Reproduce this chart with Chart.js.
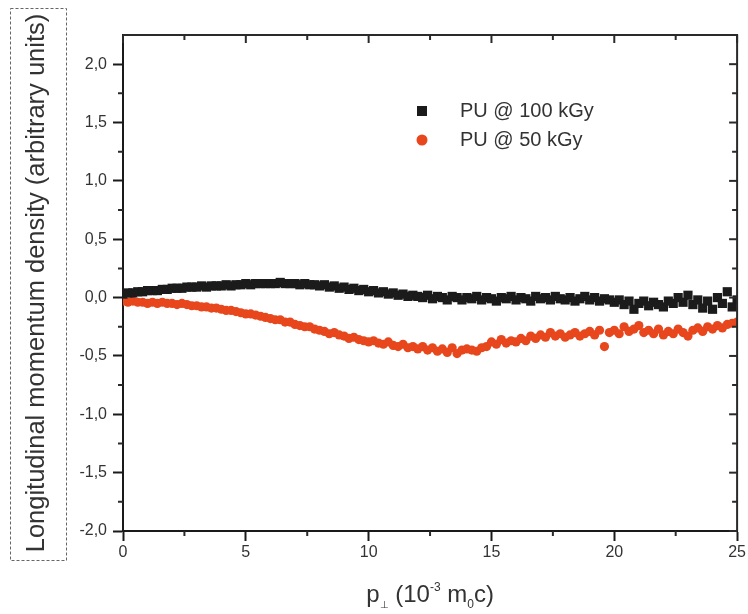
<!DOCTYPE html>
<html>
<head>
<meta charset="utf-8">
<script src="https://cdn.jsdelivr.net/npm/chart.js@4.4.0/dist/chart.umd.min.js"></script>
<style>
  body { margin: 0; background: #fff; }
  #wrap { width: 748px; height: 614px; }
</style>
</head>
<body>
<div id="wrap"><canvas id="myChart" width="748" height="614"></canvas></div>
<script>
// p_perp values (10^-3 m0c)
const pValues = [
  0.0, 0.2, 0.4, 0.6, 0.8, 1.0, 1.2, 1.4, 1.6, 1.8,
  2.0, 2.2, 2.4, 2.6, 2.8, 3.0, 3.2, 3.4, 3.6, 3.8,
  4.0, 4.2, 4.4, 4.6, 4.8, 5.0, 5.2, 5.4, 5.6, 5.8,
  6.0, 6.2, 6.4, 6.6, 6.8, 7.0, 7.2, 7.4, 7.6, 7.8,
  8.0, 8.2, 8.4, 8.6, 8.8, 9.0, 9.2, 9.4, 9.6, 9.8,
  10.0, 10.2, 10.4, 10.6, 10.8, 11.0, 11.2, 11.4, 11.6, 11.8,
  12.0, 12.2, 12.4, 12.6, 12.8, 13.0, 13.2, 13.4, 13.6, 13.8,
  14.0, 14.2, 14.4, 14.6, 14.8, 15.0, 15.2, 15.4, 15.6, 15.8,
  16.0, 16.2, 16.4, 16.6, 16.8, 17.0, 17.2, 17.4, 17.6, 17.8,
  18.0, 18.2, 18.4, 18.6, 18.8, 19.0, 19.2, 19.4, 19.6, 19.8,
  20.0, 20.2, 20.4, 20.6, 20.8, 21.0, 21.2, 21.4, 21.6, 21.8,
  22.0, 22.2, 22.4, 22.6, 22.8, 23.0, 23.2, 23.4, 23.6, 23.8,
  24.0, 24.2, 24.4, 24.6, 24.8, 25.0
];

const pu100 = [
  0.03, 0.04, 0.04, 0.05, 0.05, 0.06, 0.06, 0.06, 0.07, 0.07,
  0.08, 0.08, 0.08, 0.09, 0.09, 0.09, 0.10, 0.09, 0.10, 0.10,
  0.10, 0.11, 0.10, 0.11, 0.11, 0.12, 0.11, 0.12, 0.12, 0.12,
  0.12, 0.12, 0.13, 0.12, 0.12, 0.12, 0.11, 0.12, 0.11, 0.11,
  0.10, 0.11, 0.09, 0.10, 0.08, 0.09, 0.07, 0.08, 0.06, 0.07,
  0.05, 0.06, 0.04, 0.05, 0.03, 0.04, 0.02, 0.03, 0.01, 0.02,
  0.01, 0.00, 0.02, -0.01, 0.01, 0.00, -0.02, 0.01, 0.00, -0.02,
  0.00, -0.01, 0.01, -0.02, 0.00, -0.01, -0.03, 0.00, -0.01, 0.01,
  -0.02, 0.00, -0.01, -0.03, 0.01, -0.01, 0.00, -0.02, 0.01, -0.01,
  -0.02, 0.00, -0.03, -0.01, 0.01, -0.02, 0.00, -0.03, -0.01, -0.02,
  -0.04, -0.02, -0.06, -0.03, -0.10, -0.05, -0.03, -0.07, -0.04, -0.06,
  -0.08, -0.03, -0.05, 0.00, -0.04, 0.02, -0.06, -0.02, -0.09, -0.03,
  -0.10, 0.00, -0.05, 0.05, -0.08, -0.02
];

const pu50 = [
  -0.03, -0.04, -0.03, -0.04, -0.04, -0.05, -0.04, -0.05, -0.04, -0.05,
  -0.05, -0.06, -0.05, -0.06, -0.07, -0.07, -0.08, -0.08, -0.09, -0.09,
  -0.10, -0.11, -0.11, -0.12, -0.13, -0.14, -0.14, -0.15, -0.16, -0.17,
  -0.18, -0.19, -0.19, -0.21, -0.21, -0.23, -0.24, -0.25, -0.25, -0.27,
  -0.28, -0.29, -0.31, -0.30, -0.32, -0.33, -0.35, -0.34, -0.36, -0.37,
  -0.38, -0.37, -0.39, -0.40, -0.38, -0.41, -0.42, -0.40, -0.43, -0.42,
  -0.44, -0.42, -0.45, -0.43, -0.46, -0.44, -0.47, -0.43, -0.48, -0.45,
  -0.44, -0.45, -0.46, -0.43, -0.42, -0.38, -0.40, -0.36, -0.39, -0.37,
  -0.38, -0.35, -0.37, -0.33, -0.35, -0.32, -0.34, -0.30, -0.33, -0.31,
  -0.34, -0.32, -0.30, -0.33, -0.31, -0.29, -0.32, -0.28, -0.42, -0.30,
  -0.28, -0.31, -0.25, -0.29, -0.27, -0.24, -0.30, -0.28, -0.31, -0.27,
  -0.32, -0.29, -0.31, -0.27, -0.30, -0.33, -0.28, -0.26, -0.29, -0.25,
  -0.27, -0.24, -0.26, -0.23, -0.22, -0.21
];

const seriesNames = ['PU @ 100 kGy', 'PU @ 50 kGy'];
const seriesColors = ['#1b1b1b', '#e8461c'];
const yTitle = 'Longitudinal momentum density (arbitrary units)';

function toPoints(ys) {
    return ys.map(function (v, i) { return { x: pValues[i], y: v }; });
}

const FONT = '"Liberation Sans", Arial, sans-serif';

// frame, minor ticks, legend, x title and dashed box round the y title
const extras = {
    id: 'extras',
    afterDraw(chart) {
        const ctx = chart.ctx;
        const a = chart.chartArea;
        const xs = chart.scales.x;
        const ys = chart.scales.y;
        ctx.save();
        ctx.strokeStyle = '#2a2a2a';
        ctx.lineWidth = 2;
        ctx.beginPath();
        ctx.moveTo(a.left, a.top);
        ctx.lineTo(a.right, a.top);
        ctx.lineTo(a.right, a.bottom);
        ctx.stroke();

        let v;
        for (v = 0; v <= 25; v += 2.5) {
            const px = xs.getPixelForValue(v);
            const major = v % 5 === 0;
            ctx.beginPath();
            ctx.moveTo(px, a.top);
            ctx.lineTo(px, a.top + (major ? 8 : 5));
            if (!major) {
                ctx.moveTo(px, a.bottom);
                ctx.lineTo(px, a.bottom + 5);
            }
            ctx.stroke();
        }
        for (v = -2; v <= 2.001; v += 0.25) {
            const py = ys.getPixelForValue(v);
            const major = Math.abs(v * 2 - Math.round(v * 2)) < 1e-6;
            ctx.beginPath();
            ctx.moveTo(a.right, py);
            ctx.lineTo(a.right - (major ? 8 : 5), py);
            if (!major) {
                ctx.moveTo(a.left, py);
                ctx.lineTo(a.left - 5, py);
            }
            ctx.stroke();
        }

        // legend
        ctx.font = '20px ' + FONT;
        ctx.textBaseline = 'middle';
        ctx.textAlign = 'left';
        ctx.fillStyle = seriesColors[0];
        ctx.fillRect(417, 106, 10, 10);
        ctx.fillStyle = seriesColors[1];
        ctx.beginPath();
        ctx.arc(422, 140, 5.5, 0, Math.PI * 2);
        ctx.fill();
        ctx.fillStyle = '#333';
        ctx.fillText(seriesNames[0], 460, 111);
        ctx.fillText(seriesNames[1], 460, 140);

        // x title: p_perp (10^-3 m_0 c)
        const parts = [
            ['p', 24, 0], ['\u22A5', 10, 6], [' (10', 24, 0], ['-3', 12, -11],
            [' m', 24, 0], ['0', 12, 6], ['c)', 24, 0]
        ];
        ctx.textBaseline = 'alphabetic';
        let w = 0;
        parts.forEach(function (p) { ctx.font = p[1] + 'px ' + FONT; w += ctx.measureText(p[0]).width; });
        let cx = (a.left + a.right) / 2 - w / 2;
        parts.forEach(function (p) {
            ctx.font = p[1] + 'px ' + FONT;
            ctx.fillText(p[0], cx, 602 + p[2]);
            cx += ctx.measureText(p[0]).width;
        });

        // dashed box
        ctx.strokeStyle = '#666';
        ctx.lineWidth = 1;
        ctx.setLineDash([3, 2]);
        ctx.strokeRect(10.5, 8.5, 56, 552);
        ctx.restore();
    }
};

let ctx = document.getElementById('myChart');
let myChart = new Chart(ctx, {
    type: 'scatter',
    data: {
        datasets: [{
            label: seriesNames[0],
            data: toPoints(pu100),
            pointStyle: 'rect',
            pointRadius: 6.5,
            backgroundColor: seriesColors[0],
            borderColor: seriesColors[0],
            borderWidth: 0
        }, {
            label: seriesNames[1],
            data: toPoints(pu50),
            pointStyle: 'circle',
            pointRadius: 4.6,
            backgroundColor: seriesColors[1],
            borderColor: seriesColors[1],
            borderWidth: 0
        }]
    },
    options: {
        responsive: false,
        animation: false,
        layout: { padding: { left: 0, right: 9, top: 35, bottom: 0 } },
        plugins: {
            legend: { display: false },
            tooltip: { enabled: false }
        },
        scales: {
            x: {
                type: 'linear',
                min: 0,
                max: 25,
                afterFit(scale) { scale.height = 83; },
                border: { color: '#1a1a1a', width: 2 },
                grid: { drawOnChartArea: false, tickLength: 10, tickColor: '#1a1a1a', tickWidth: 2 },
                ticks: { stepSize: 5, padding: 2, color: '#333', font: { family: FONT, size: 16 } }
            },
            y: {
                min: -2,
                max: 2.25,
                afterFit(scale) { scale.width = 123; },
                border: { color: '#1a1a1a', width: 2 },
                grid: { drawOnChartArea: false, tickLength: 10, tickColor: '#1a1a1a', tickWidth: 2 },
                afterBuildTicks(scale) {
                    scale.ticks = scale.ticks.filter(function (t) { return t.value <= 2; });
                },
                ticks: {
                    stepSize: 0.5,
                    padding: 6,
                    color: '#333',
                    font: { family: FONT, size: 16 },
                    callback: function (v) { return v.toFixed(1).replace('.', ','); }
                },
                title: {
                    display: true,
                    text: yTitle,
                    color: '#333',
                    font: { family: FONT, size: 25.5 },
                    padding: { top: 22, bottom: 0 }
                }
            }
        }
    },
    plugins: [extras]
});
</script>
</body>
</html>
